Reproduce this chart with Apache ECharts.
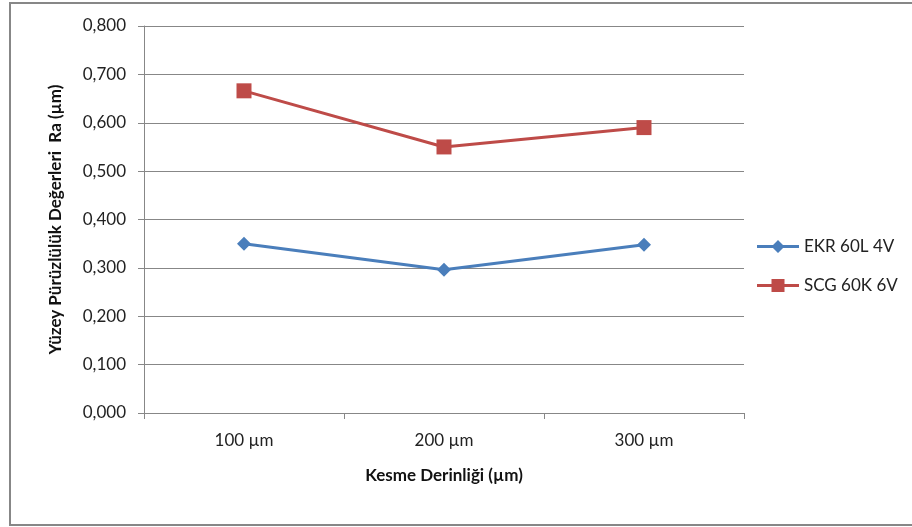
<!DOCTYPE html>
<html><head><meta charset="utf-8">
<script src="https://cdn.jsdelivr.net/npm/echarts@6/dist/echarts.min.js"></script>
<style>html,body{margin:0;padding:0;background:#fff}#c{width:912px;height:527px}</style>
</head><body><div id="c"></div>
<script>
const categories = ['100 µm', '200 µm', '300 µm'];
const ekr = [0.350, 0.296, 0.348];
const scg = [0.666, 0.550, 0.590];
const seriesNames = ['EKR 60L 4V', 'SCG 60K 6V'];
const yTicks = {min: 0, max: 0.8, interval: 0.1};

const chart = echarts.init(document.getElementById('c'), null, {renderer: 'canvas'});
const font = 'Lato, "Open Sans", sans-serif';
const iconDiamond = 'path://M0,5.5 H42 V8.5 H0 Z M21,0.5 L27.5,7 L21,13.5 L14.5,7 Z M0,0 M42,14';
const iconSquare = 'path://M0,5.5 H42 V8.5 H0 Z M14.5,0.5 H27.5 V13.5 H14.5 Z M0,0 M42,14';
chart.setOption({
  animation: false,
  textStyle: {fontFamily: font},
  graphic: [{type: 'rect', shape: {x: 10, y: 3, width: 920, height: 522}, style: {fill: 'none', stroke: '#878787', lineWidth: 2}, silent: true}],
  grid: {left: 144, right: 168, top: 26, bottom: 114, containLabel: false},
  legend: {
    orient: 'vertical', left: 752, top: 233, itemGap: 22, itemWidth: 42, itemHeight: 14,
    textStyle: {fontSize: 17, color: '#222', fontFamily: font},
    data: [{name: seriesNames[0], icon: iconDiamond}, {name: seriesNames[1], icon: iconSquare}]
  },
  xAxis: {
    type: 'category', data: categories, boundaryGap: true,
    axisLine: {lineStyle: {color: '#878787', width: 1}},
    axisTick: {show: true, length: 6, lineStyle: {color: '#878787'}},
    axisLabel: {fontSize: 17, color: '#222', margin: 19},
    name: 'Kesme Derinliği (µm)', nameLocation: 'middle', nameGap: 54,
    nameTextStyle: {fontSize: 17, fontWeight: 'bold', color: '#111'}
  },
  yAxis: {
    type: 'value', min: yTicks.min, max: yTicks.max, interval: yTicks.interval,
    axisLine: {show: true, lineStyle: {color: '#878787'}},
    axisTick: {show: true, length: 6, inside: false, lineStyle: {color: '#878787'}},
    splitLine: {lineStyle: {color: '#878787', width: 1}},
    axisLabel: {fontSize: 17, color: '#222', margin: 18, formatter: v => v.toFixed(3).replace('.', ',')},
    name: 'Yüzey Pürüzlülük Değerleri  Ra (µm)', nameLocation: 'middle', nameGap: 80,
    nameTextStyle: {fontSize: 17, fontWeight: 'bold', color: '#111'}
  },
  series: [
    {name: seriesNames[0], type: 'line', data: ekr, symbol: 'diamond', symbolSize: 14,
     lineStyle: {color: '#4A7EBB', width: 3}, itemStyle: {color: '#4A7EBB'}},
    {name: seriesNames[1], type: 'line', data: scg, symbol: 'rect', symbolSize: 15,
     lineStyle: {color: '#BE4B48', width: 3}, itemStyle: {color: '#BE4B48'}}
  ]
});
</script></body></html>
